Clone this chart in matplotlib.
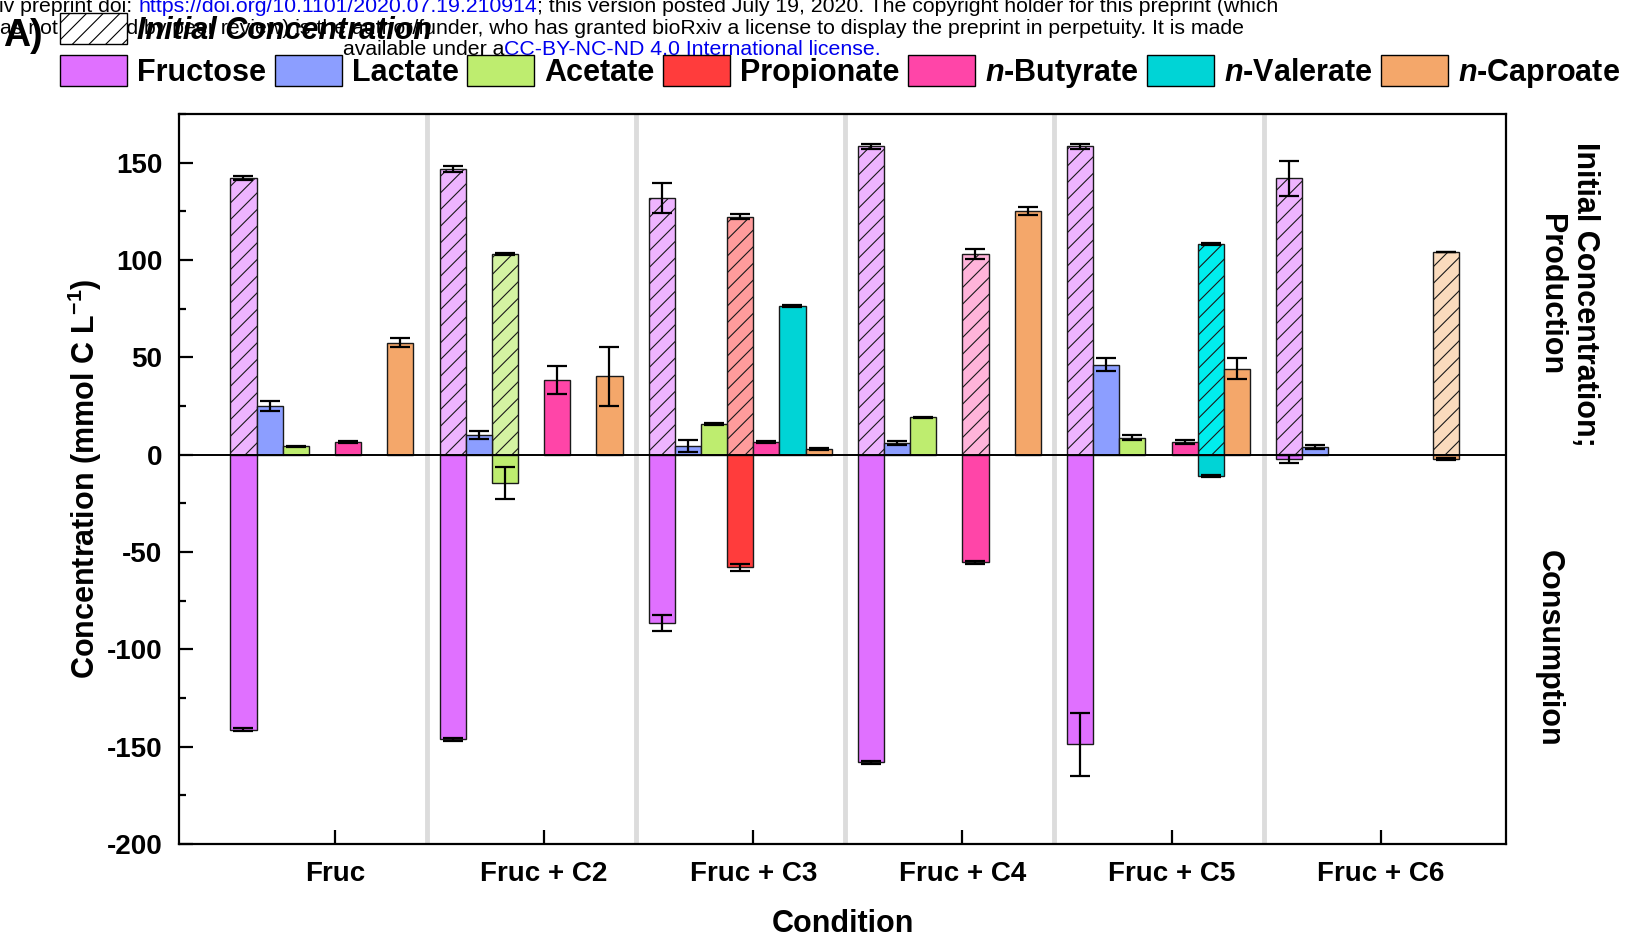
"""Carbon balance bar chart: substrate consumption and product formation per condition"""
import numpy as np
import matplotlib
matplotlib.use('Agg')
import matplotlib.pyplot as plt
from matplotlib.patches import Patch
from matplotlib.ticker import MultipleLocator

plt.rcParams['font.family'] = ['Liberation Sans', 'DejaVu Sans']
plt.rcParams['font.weight'] = 'bold'
plt.rcParams['mathtext.fontset'] = 'custom'
plt.rcParams['mathtext.rm'] = 'Liberation Sans:bold'
plt.rcParams['mathtext.it'] = 'Liberation Sans:italic:bold'
plt.rcParams['mathtext.bf'] = 'Liberation Sans:bold'
plt.rcParams['axes.unicode_minus'] = False
plt.rcParams['hatch.linewidth'] = 0.8

nan = np.nan

conditions = ['Fruc', 'Fruc + C2', 'Fruc + C3', 'Fruc + C4', 'Fruc + C5', 'Fruc + C6']
species = ['Fructose', 'Lactate', 'Acetate', 'Propionate',
           r'$\mathit{n}$-Butyrate', r'$\mathit{n}$-Valerate', r'$\mathit{n}$-Caproate']
colors = ['#E070FF', '#8C9EFF', '#BEED6F', '#FF3C3C', '#FF45A8', '#00D4D6', '#F4A76A']
initial_colors = ['#EEB4FF', '#C6CFFF', '#D4F3A2', '#FF9C9C', '#FFB4DA', '#00EEEE', '#FADBBD']

# rows follow `species`, columns follow `conditions` (mmol C / L)
initial = np.array([
    [141.9, 146.8, 131.9, 158.3, 158.3, 141.9],
    [nan, nan, nan, nan, nan, nan],
    [nan, 102.9, nan, nan, nan, nan],
    [nan, nan, 122.2, nan, nan, nan],
    [nan, nan, nan, 102.9, nan, nan],
    [nan, nan, nan, nan, 108.3, nan],
    [nan, nan, nan, nan, nan, 104.1],
])
initial_err = np.array([
    [1.0, 1.7, 7.7, 1.5, 1.5, 8.8],
    [nan, nan, nan, nan, nan, nan],
    [nan, 0.5, nan, nan, nan, nan],
    [nan, nan, 1.4, nan, nan, nan],
    [nan, nan, nan, 2.5, nan, nan],
    [nan, nan, nan, nan, 0.4, nan],
    [nan, nan, nan, nan, nan, 0.0],
])

consumption = np.array([
    [-141.4, -146.3, -86.5, -158.0, -148.8, -2.2],
    [nan, nan, nan, nan, nan, nan],
    [nan, -14.4, nan, nan, nan, nan],
    [nan, nan, -57.9, nan, nan, nan],
    [nan, nan, nan, -55.2, nan, nan],
    [nan, nan, nan, nan, -10.9, nan],
    [nan, nan, nan, nan, nan, -2.2],
])
consumption_err = np.array([
    [0.8, 1.0, 4.2, 0.8, 16.1, 2.0],
    [nan, nan, nan, nan, nan, nan],
    [nan, 8.2, nan, nan, nan, nan],
    [nan, nan, 1.9, nan, nan, nan],
    [nan, nan, nan, 0.8, nan, nan],
    [nan, nan, nan, nan, 0.5, nan],
    [nan, nan, nan, nan, nan, 0.5],
])

production = np.array([
    [nan, nan, nan, nan, nan, nan],
    [25.1, 10.2, 4.5, 6.0, 46.2, 4.0],
    [4.2, nan, 15.7, 19.1, 8.7, nan],
    [nan, nan, nan, nan, nan, nan],
    [6.7, 38.5, 6.5, nan, 6.7, nan],
    [nan, nan, 76.3, nan, nan, nan],
    [57.6, 40.2, 2.7, 125.2, 44.2, nan],
])
production_err = np.array([
    [nan, nan, nan, nan, nan, nan],
    [2.7, 2.1, 3.0, 1.0, 3.2, 1.0],
    [0.5, nan, 0.4, 0.4, 1.4, nan],
    [nan, nan, nan, nan, nan, nan],
    [0.5, 7.1, 0.5, nan, 1.0, nan],
    [nan, nan, 0.4, nan, nan, nan],
    [2.3, 15.3, 0.5, 2.0, 5.5, nan],
])

W, H = 1630, 938
fig = plt.figure(figsize=(W / 100, H / 100), dpi=100)
ax = fig.add_axes([0.1098, 0.1002, 0.8142, 0.7783])

bar_w = 0.125
centers = np.arange(len(conditions))


def draw_bars(values, errors, palette, hatch=None):
    for k in range(len(species)):
        mask = np.isfinite(values[k])
        if not mask.any():
            continue
        x = centers[mask] - 0.5 + k * bar_w
        ax.bar(x, values[k][mask], width=bar_w, align='edge',
               color=palette[k], edgecolor='#1a1a1a', linewidth=1.0,
               hatch=hatch, zorder=2)
        ax.errorbar(x + bar_w / 2, values[k][mask], yerr=errors[k][mask],
                    fmt='none', ecolor='black', elinewidth=1.6,
                    capsize=7.5, capthick=1.6, zorder=3)


draw_bars(initial, initial_err, initial_colors, hatch='//')
draw_bars(consumption, consumption_err, colors)
draw_bars(production, production_err, colors)

ax.axhline(0, color='black', lw=1.4, zorder=4)
for c in centers[:-1]:
    ax.axvline(c + 0.44, color='#dcdcdc', lw=3.5, zorder=0)

ax.set_xlim(-0.746, 5.60)
ax.set_ylim(-200, 175)
ax.set_xticks(centers)
ax.set_xticklabels(conditions, fontsize=20, fontweight='bold')
ax.yaxis.set_major_locator(MultipleLocator(50))
ax.yaxis.set_minor_locator(MultipleLocator(25))
ax.tick_params(axis='y', which='major', direction='in', length=10, width=1.6,
               labelsize=20, pad=12)
ax.tick_params(axis='y', which='minor', direction='in', length=5, width=1.6)
ax.tick_params(axis='x', direction='in', length=10, width=1.6, pad=12)
for s in ax.spines.values():
    s.set_linewidth(1.6)

ax.set_xlabel('Condition', fontsize=22, fontweight='bold', labelpad=16)
ax.set_ylabel(r'Concentration (mmol C L$^{-1}$)', fontsize=22,
              fontweight='bold', labelpad=1.5)

fig.text(0.962, 0.686, 'Initial Concentration;\nProduction', rotation=270,
         ha='center', va='center', fontsize=22, fontweight='bold',
         multialignment='center')
fig.text(0.950, 0.309, 'Consumption', rotation=270, ha='center', va='center',
         fontsize=22, fontweight='bold')

# preprint banner along the top edge, drawn piece by piece to colour the links
renderer = fig.canvas.get_renderer()


def banner_line(x_px, y_px, pieces, size=15.3):
    x = x_px
    for text, color, gap in pieces:
        x += gap
        t = fig.text(x / W, 1 - y_px / H, text, color=color, fontsize=size,
                     fontweight='normal', va='baseline', ha='left', zorder=1)
        x = t.get_window_extent(renderer).x1


link = '#0000EE'
banner_line(-1, 12.5, [('iv preprint doi:', 'black', 0),
                       ('https://doi.org/10.1101/2020.07.19.210914', link, 5.9),
                       ('; this version posted July 19, 2020. The copyright holder '
                        'for this preprint (which', 'black', 0)])
banner_line(0, 34, [('as not certified by peer review) is the author/funder, who has '
                     'granted bioRxiv a license to display the preprint in perpetuity. '
                     'It is made', 'black', 0)])
banner_line(343, 55, [('available under a', 'black', 0),
                      ('CC-BY-NC-ND 4.0 International license.', link, 0)])

fig.text(3 / W, 1 - 46 / H, 'A)', fontsize=27, fontweight='bold',
         va='baseline', ha='left')

# legends
init_handle = Patch(facecolor='white', edgecolor='black', hatch='//', lw=1)
fig.legend([init_handle], ['Initial Concentration'], loc='upper left',
           bbox_to_anchor=(60 / W, 1 - 13 / H), frameon=False,
           prop={'size': 22, 'weight': 'bold', 'style': 'italic'},
           handlelength=2.2, handleheight=1.18, handletextpad=0.33,
           borderpad=0, borderaxespad=0)

handles = [Patch(facecolor=c, edgecolor='black', lw=1) for c in colors]
fig.legend(handles, species, loc='upper left', ncol=7,
           bbox_to_anchor=(60 / W, 1 - 55 / H), frameon=False,
           prop={'size': 22, 'weight': 'bold'},
           handlelength=2.2, handleheight=1.18, handletextpad=0.33,
           columnspacing=0.27, borderpad=0, borderaxespad=0)

fig.savefig('out.png', dpi=100)
